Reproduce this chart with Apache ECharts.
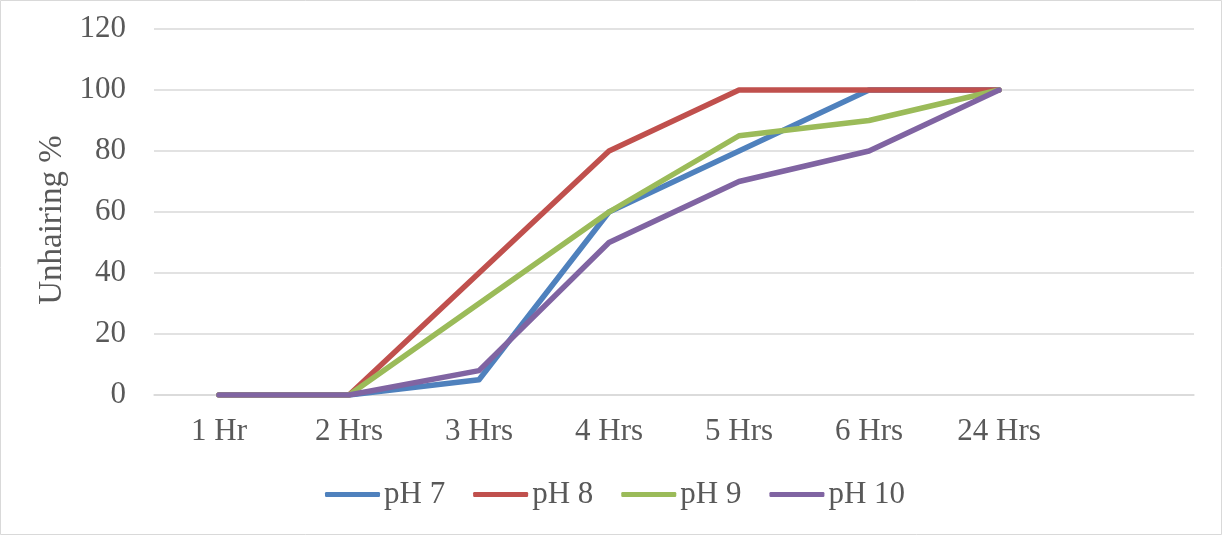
<!DOCTYPE html>
<html>
<head>
<meta charset="utf-8">
<script src="https://cdn.jsdelivr.net/npm/echarts@6/dist/echarts.min.js"></script>
<style>
html,body{margin:0;padding:0;background:#fff;}
#chart{width:1222px;height:535px;}
</style>
</head>
<body>
<div id="chart"></div>
<script>
const categories = ['1 Hr', '2 Hrs', '3 Hrs', '4 Hrs', '5 Hrs', '6 Hrs', '24 Hrs', ''];
const yTicks = [0, 20, 40, 60, 80, 100, 120];
const seriesNames = ['pH 7', 'pH 8', 'pH 9', 'pH 10'];
const ph7 = [0, 0, 5, 60, 80, 100, 100];
const ph8 = [0, 0, 40, 80, 100, 100, 100];
const ph9 = [0, 0, 30, 60, 85, 90, 100];
const ph10 = [0, 0, 8, 50, 70, 80, 100];
const colors = ['#4F81BD', '#C0504D', '#9BBB59', '#8064A2'];

const FONT = "'Liberation Serif', 'Times New Roman', serif";
const TEXT = '#595959';

const chart = echarts.init(document.getElementById('chart'), null, {renderer: 'canvas'});
const values = [ph7, ph8, ph9, ph10];
chart.setOption({
  backgroundColor: '#ffffff',
  animation: false,
  color: colors,
  graphic: [{
    type: 'rect',
    shape: {x: 0.5, y: 0.5, width: 1221, height: 534},
    style: {fill: 'none', stroke: '#d9d9d9', lineWidth: 1},
    silent: true
  }],
  grid: {left: 154, right: 28, top: 29, bottom: 140, containLabel: false},
  legend: {
    data: seriesNames.map(n => ({name: n, icon: 'roundRect'})),
    left: 325,
    top: 479,
    padding: 0,
    itemWidth: 55,
    itemHeight: 5,
    itemGap: 28,
    itemStyle: {borderWidth: 0},
    textStyle: {fontFamily: FONT, fontSize: 31, color: TEXT, padding: [0, 0, 0, -1]}
  },
  xAxis: {
    type: 'category',
    data: categories,
    boundaryGap: true,
    axisLine: {show: true, lineStyle: {color: '#d9d9d9', width: 1.5}},
    axisTick: {show: false},
    axisLabel: {fontFamily: FONT, fontSize: 31, color: TEXT, margin: 21, interval: 0}
  },
  yAxis: {
    type: 'value',
    min: yTicks[0],
    max: yTicks[yTicks.length - 1],
    interval: 20,
    name: 'Unhairing %',
    nameLocation: 'middle',
    nameGap: 72,
    nameTextStyle: {fontFamily: FONT, fontSize: 33, color: TEXT, padding: [0, 16, 0, 0]},
    axisLine: {show: false},
    axisTick: {show: false},
    axisLabel: {fontFamily: FONT, fontSize: 31, color: TEXT, margin: 28},
    splitLine: {lineStyle: {color: '#d9d9d9', width: 1.5}}
  },
  series: seriesNames.map((n, i) => ({
    name: n,
    type: 'line',
    data: values[i],
    symbol: 'none',
    showSymbol: false,
    lineStyle: {width: 5.5, color: colors[i], cap: 'round', join: 'round'},
    itemStyle: {color: colors[i]}
  }))
});
</script>
</body>
</html>
